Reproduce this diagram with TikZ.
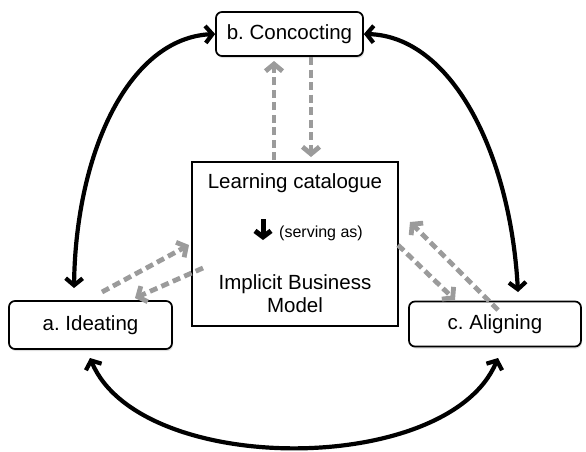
\documentclass[tikz,border=0pt]{standalone}
\usepackage{fontspec}
\setmainfont{Liberation Sans}
\usetikzlibrary{arrows.meta,shadows,calc}
\definecolor{dashgray}{RGB}{155,155,155}
\frenchspacing
\begin{document}
\begin{tikzpicture}[x=1pt,y=-1pt,
  stage/.style={draw=black, line width=1.7pt, rounded corners=6pt, fill=white,
    font=\fontsize{20.5}{24}\selectfont, inner sep=0pt,
    drop shadow={opacity=0.25, shadow xshift=1pt, shadow yshift=-2pt}},
  centrebox/.style={draw=black, line width=1.8pt, fill=white, inner sep=0pt},
  bigtext/.style={font=\fontsize{20.5}{23}\selectfont, align=center, inner sep=0pt},
  smalltext/.style={font=\fontsize{16}{19}\selectfont, inner sep=0pt},
  cycle/.style={line width=4.2pt,
    {Straight Barb[length=7pt,width=17pt]}-{Straight Barb[length=7pt,width=17pt]}},
  flow/.style={draw=dashgray, line width=4.8pt, dash pattern=on 8pt off 4.5pt,
    -{Straight Barb[length=7pt,width=17pt]}}
]
\useasboundingbox (0,0) rectangle (586,451);

% nodes
\node[stage, minimum width=147pt, minimum height=44pt] (b) at (289.5,34) {b. Concocting};
\node[stage, minimum width=163pt, minimum height=48pt] (a) at (90.5,325) {a. Ideating};
\node[stage, minimum width=172pt, minimum height=45pt] (c) at (495,324) {c. Aligning};
\node[centrebox, minimum width=206pt, minimum height=164pt] (cen) at (295,244) {};

\node[bigtext] (t1) at (295,183) {Learning catalogue};
\node[smalltext] (t2) at (321,233) {(serving as)};
\node[bigtext] (t3) at (295,294) {Implicit Business\\Model};
\draw[line width=5pt, -{Straight Barb[length=6pt,width=16pt]}] (263,219) -- (263,240);

% free ends of connectors
\coordinate (aTop) at (74,288);
\coordinate (cTop) at (518,292);
\coordinate (aBot) at (90,358);
\coordinate (cBot) at (498,358);

\coordinate (up1s) at (274,160);
\coordinate (up1e) at (274,61);
\coordinate (dn1s) at (311,57);
\coordinate (dn1e) at (311,157);
\coordinate (ai1s) at (102,292);
\coordinate (ai1e) at (189,245);
\coordinate (ai2s) at (203,268);
\coordinate (ai2e) at (135,298);
\coordinate (ac1s) at (398,245);
\coordinate (ac1e) at (455,300);
\coordinate (ac2s) at (498,310);
\coordinate (ac2e) at (410,222);

% black cycle arrows
\draw[cycle] (b.west) .. controls (130,38) and (76,150) .. (aTop);
\draw[cycle] (b.east) .. controls (450,36) and (510,150) .. (cTop);
\draw[cycle] (aBot) .. controls (140,477) and (448,477) .. (cBot);

% gray dashed flows
\draw[flow] (up1s) -- (up1e);
\draw[flow] (dn1s) -- (dn1e);
\draw[flow] (ai1s) -- (ai1e);
\draw[flow] (ai2s) -- (ai2e);
\draw[flow] (ac1s) -- (ac1e);
\draw[flow] (ac2s) -- (ac2e);
\end{tikzpicture}
\end{document}
